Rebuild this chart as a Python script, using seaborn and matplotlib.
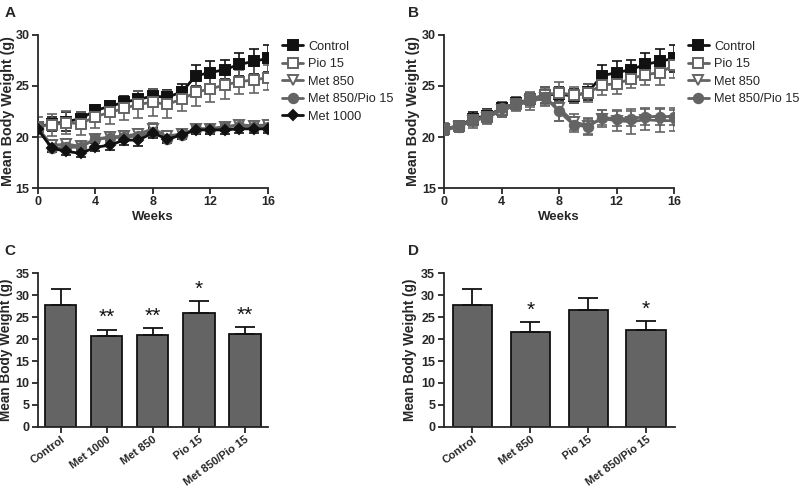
import matplotlib
matplotlib.use("Agg")
import matplotlib.pyplot as plt
import seaborn as sns
import numpy as np

# -----------------------------------------
# Data
# -----------------------------------------
weeks = list(range(17))

# Panel A
a_control = [21.0, 21.3, 21.5, 21.8, 22.6, 23.0, 23.4, 23.7, 24.0, 23.9, 24.4, 26.0, 26.3, 26.6, 27.1, 27.4, 27.7]
a_control_err = [0.5, 0.7, 0.9, 0.6, 0.5, 0.5, 0.6, 0.8, 0.7, 0.7, 0.8, 1.0, 1.1, 0.9, 1.1, 1.2, 1.3]
a_pio = [21.0, 21.2, 21.4, 21.3, 22.0, 22.4, 22.8, 23.2, 23.4, 23.2, 23.7, 24.4, 24.7, 25.1, 25.4, 25.6, 25.8]
a_pio_err = [1.0, 1.1, 1.1, 1.1, 1.1, 1.1, 1.1, 1.3, 1.3, 1.3, 1.2, 1.4, 1.3, 1.4, 1.2, 1.3, 1.2]
a_met850 = [20.9, 19.2, 19.3, 19.1, 19.8, 20.0, 20.1, 20.3, 20.8, 20.1, 20.3, 20.8, 20.8, 21.0, 21.2, 21.1, 21.2]
a_met850_err = [0.4, 0.4, 0.5, 0.4, 0.4, 0.4, 0.5, 0.5, 0.6, 0.5, 0.5, 0.5, 0.5, 0.4, 0.4, 0.4, 0.4]
a_combo = [20.8, 18.9, 19.0, 19.0, 19.8, 19.9, 20.0, 20.1, 20.5, 19.8, 20.2, 20.8, 20.8, 21.0, 21.1, 21.0, 21.0]
a_combo_err = [0.4, 0.4, 0.4, 0.4, 0.3, 0.4, 0.4, 0.5, 0.5, 0.4, 0.4, 0.4, 0.4, 0.3, 0.4, 0.4, 0.4]
a_met1000 = [20.8, 18.9, 18.6, 18.4, 19.0, 19.2, 19.7, 19.7, 20.4, 19.8, 20.2, 20.7, 20.7, 20.7, 20.8, 20.8, 20.8]
a_met1000_err = [0.4, 0.4, 0.4, 0.4, 0.4, 0.5, 0.5, 0.6, 0.5, 0.4, 0.4, 0.4, 0.4, 0.4, 0.4, 0.4, 0.4]

# Panel B
b_control = [20.8, 21.1, 21.8, 22.1, 22.8, 23.3, 23.7, 24.1, 24.2, 24.0, 24.4, 26.0, 26.3, 26.6, 27.1, 27.4, 27.7]
b_control_err = [0.5, 0.5, 0.6, 0.6, 0.6, 0.6, 0.6, 0.8, 0.7, 0.7, 0.8, 1.0, 1.1, 0.9, 1.1, 1.2, 1.3]
b_pio = [20.8, 21.1, 21.7, 22.0, 22.6, 23.2, 23.7, 24.1, 24.35, 24.1, 24.3, 25.1, 25.2, 25.7, 26.1, 26.3, 27.0]
b_pio_err = [0.6, 0.5, 0.6, 0.6, 0.6, 0.6, 0.6, 0.8, 1.0, 0.8, 0.9, 1.0, 1.0, 0.9, 1.0, 1.2, 1.2]
b_met850 = [20.7, 21.0, 21.6, 21.9, 22.6, 23.1, 23.5, 23.8, 22.8, 21.5, 21.1, 21.8, 21.6, 21.5, 21.7, 21.6, 21.6]
b_met850_err = [0.5, 0.5, 0.7, 0.6, 0.6, 0.6, 0.9, 0.8, 1.2, 0.8, 0.8, 0.8, 1.0, 1.2, 1.0, 1.1, 1.0]
b_combo = [20.7, 21.0, 21.7, 22.0, 22.8, 23.3, 23.6, 23.9, 22.5, 21.2, 21.0, 21.9, 21.8, 21.8, 22.0, 22.0, 22.0]
b_combo_err = [0.5, 0.5, 0.5, 0.5, 0.6, 0.6, 0.7, 0.8, 0.9, 0.7, 0.8, 0.7, 0.7, 0.7, 0.8, 0.8, 0.8]

# Panel C
c_groups = ["Control", "Met 1000", "Met 850", "Pio 15", "Met 850/Pio 15"]
c_means = [27.8, 20.8, 21.0, 25.9, 21.2]
c_err = [3.7, 1.4, 1.5, 2.7, 1.5]
c_stars = ["", "**", "**", "*", "**"]

# Panel D
d_groups = ["Control", "Met 850", "Pio 15", "Met 850/Pio 15"]
d_means = [27.8, 21.7, 26.7, 22.0]
d_err = [3.7, 2.2, 2.6, 2.1]
d_stars = ["", "*", "", "*"]

# -----------------------------------------
# Style
# -----------------------------------------
sns.set_style("ticks")
plt.rcParams["font.family"] = ["Liberation Sans", "DejaVu Sans"]
plt.rcParams["axes.linewidth"] = 1.3
plt.rcParams["xtick.major.width"] = 1.3
plt.rcParams["ytick.major.width"] = 1.3
plt.rcParams["xtick.major.size"] = 4
plt.rcParams["ytick.major.size"] = 4

BLACK = "#111111"
GRAY = "#646464"

fig = plt.figure(figsize=(8, 4.9), dpi=100)
ax_a = fig.add_axes([0.047, 0.616, 0.288, 0.313])
ax_b = fig.add_axes([0.5554, 0.616, 0.2871, 0.313])
ax_c = fig.add_axes([0.047, 0.129, 0.288, 0.313])
ax_d = fig.add_axes([0.5544, 0.129, 0.2894, 0.313])


def draw_series(ax, y, err, label, color, marker, face, ms=6.8):
    ax.errorbar(weeks, y, yerr=err, fmt="none", ecolor=color, elinewidth=1.2,
                capsize=3.5, capthick=1.2, zorder=2)
    sns.lineplot(x=weeks, y=y, ax=ax, color=color, linewidth=2.0, marker=marker,
                 markersize=ms, markerfacecolor=face, markeredgecolor=color,
                 markeredgewidth=1.4, label=label, zorder=3)


def style_line_axes(ax, label_x):
    ax.set_xlim(0, 16)
    ax.set_ylim(15, 30)
    ax.set_xticks([0, 4, 8, 12, 16])
    ax.set_yticks([15, 20, 25, 30])
    ax.set_xlabel("Weeks", fontsize=9.5, fontweight="bold", labelpad=2)
    ax.set_ylabel("Mean Body Weight (g)", fontsize=10.3, fontweight="bold")
    ax.yaxis.set_label_coords(label_x, 0.5)
    ax.tick_params(labelsize=9, pad=2)
    for t in ax.get_xticklabels() + ax.get_yticklabels():
        t.set_fontweight("bold")
    sns.despine(ax=ax)
    ax.legend(loc="upper left", bbox_to_anchor=(1.062, 0.96), frameon=False,
              fontsize=9.2, handlelength=1.6, handletextpad=0.45,
              labelspacing=0.43, borderaxespad=0, borderpad=0)


# Panel A
draw_series(ax_a, a_control, a_control_err, "Control", BLACK, "s", BLACK)
draw_series(ax_a, a_pio, a_pio_err, "Pio 15", GRAY, "s", "white")
draw_series(ax_a, a_met850, a_met850_err, "Met 850", GRAY, "v", "white")
draw_series(ax_a, a_combo, a_combo_err, "Met 850/Pio 15", GRAY, "o", GRAY)
draw_series(ax_a, a_met1000, a_met1000_err, "Met 1000", BLACK, "D", BLACK, ms=5)
style_line_axes(ax_a, -0.1)

# Panel B
draw_series(ax_b, b_control, b_control_err, "Control", BLACK, "s", BLACK)
draw_series(ax_b, b_pio, b_pio_err, "Pio 15", GRAY, "s", "white")
draw_series(ax_b, b_met850, b_met850_err, "Met 850", GRAY, "v", "white")
draw_series(ax_b, b_combo, b_combo_err, "Met 850/Pio 15", GRAY, "o", GRAY)
style_line_axes(ax_b, -0.106)


def draw_bars(ax, groups, means, err, stars, label_x):
    sns.barplot(x=groups, y=means, ax=ax, color=GRAY, edgecolor=BLACK,
                linewidth=1.3, width=0.68, saturation=1)
    x = np.arange(len(groups))
    ax.errorbar(x, means, yerr=[np.zeros(len(err)), err], fmt="none",
                ecolor=BLACK, elinewidth=1.3, capsize=7, capthick=1.3, zorder=3)
    for xi, m, e, s in zip(x, means, err, stars):
        if s:
            ax.text(xi, m + e + 0.6, s, ha="center", va="bottom",
                    fontsize=15, color=BLACK)
    ax.set_xlim(-0.5, len(groups) - 0.5)
    ax.set_ylim(0, 35)
    ax.set_yticks(range(0, 36, 5))
    ax.set_ylabel("Mean Body Weight (g)", fontsize=9.8, fontweight="bold")
    ax.yaxis.set_label_coords(label_x, 0.5)
    ax.tick_params(axis="y", labelsize=9, pad=2)
    ax.tick_params(axis="x", labelsize=8.0, pad=1.5)
    plt.setp(ax.get_xticklabels(), rotation=36, ha="right", rotation_mode="anchor",
             fontweight="bold")
    plt.setp(ax.get_yticklabels(), fontweight="bold")
    sns.despine(ax=ax)


draw_bars(ax_c, c_groups, c_means, c_err, c_stars, -0.105)
draw_bars(ax_d, d_groups, d_means, d_err, d_stars, -0.114)

# Panel letters
for lab, (x, y) in zip("ABCD", [(0.006, 0.988), (0.51, 0.988), (0.006, 0.503), (0.51, 0.503)]):
    fig.text(x, y, lab, fontsize=11, fontweight="bold", va="top", ha="left")

fig.savefig("out.png", dpi=100)
